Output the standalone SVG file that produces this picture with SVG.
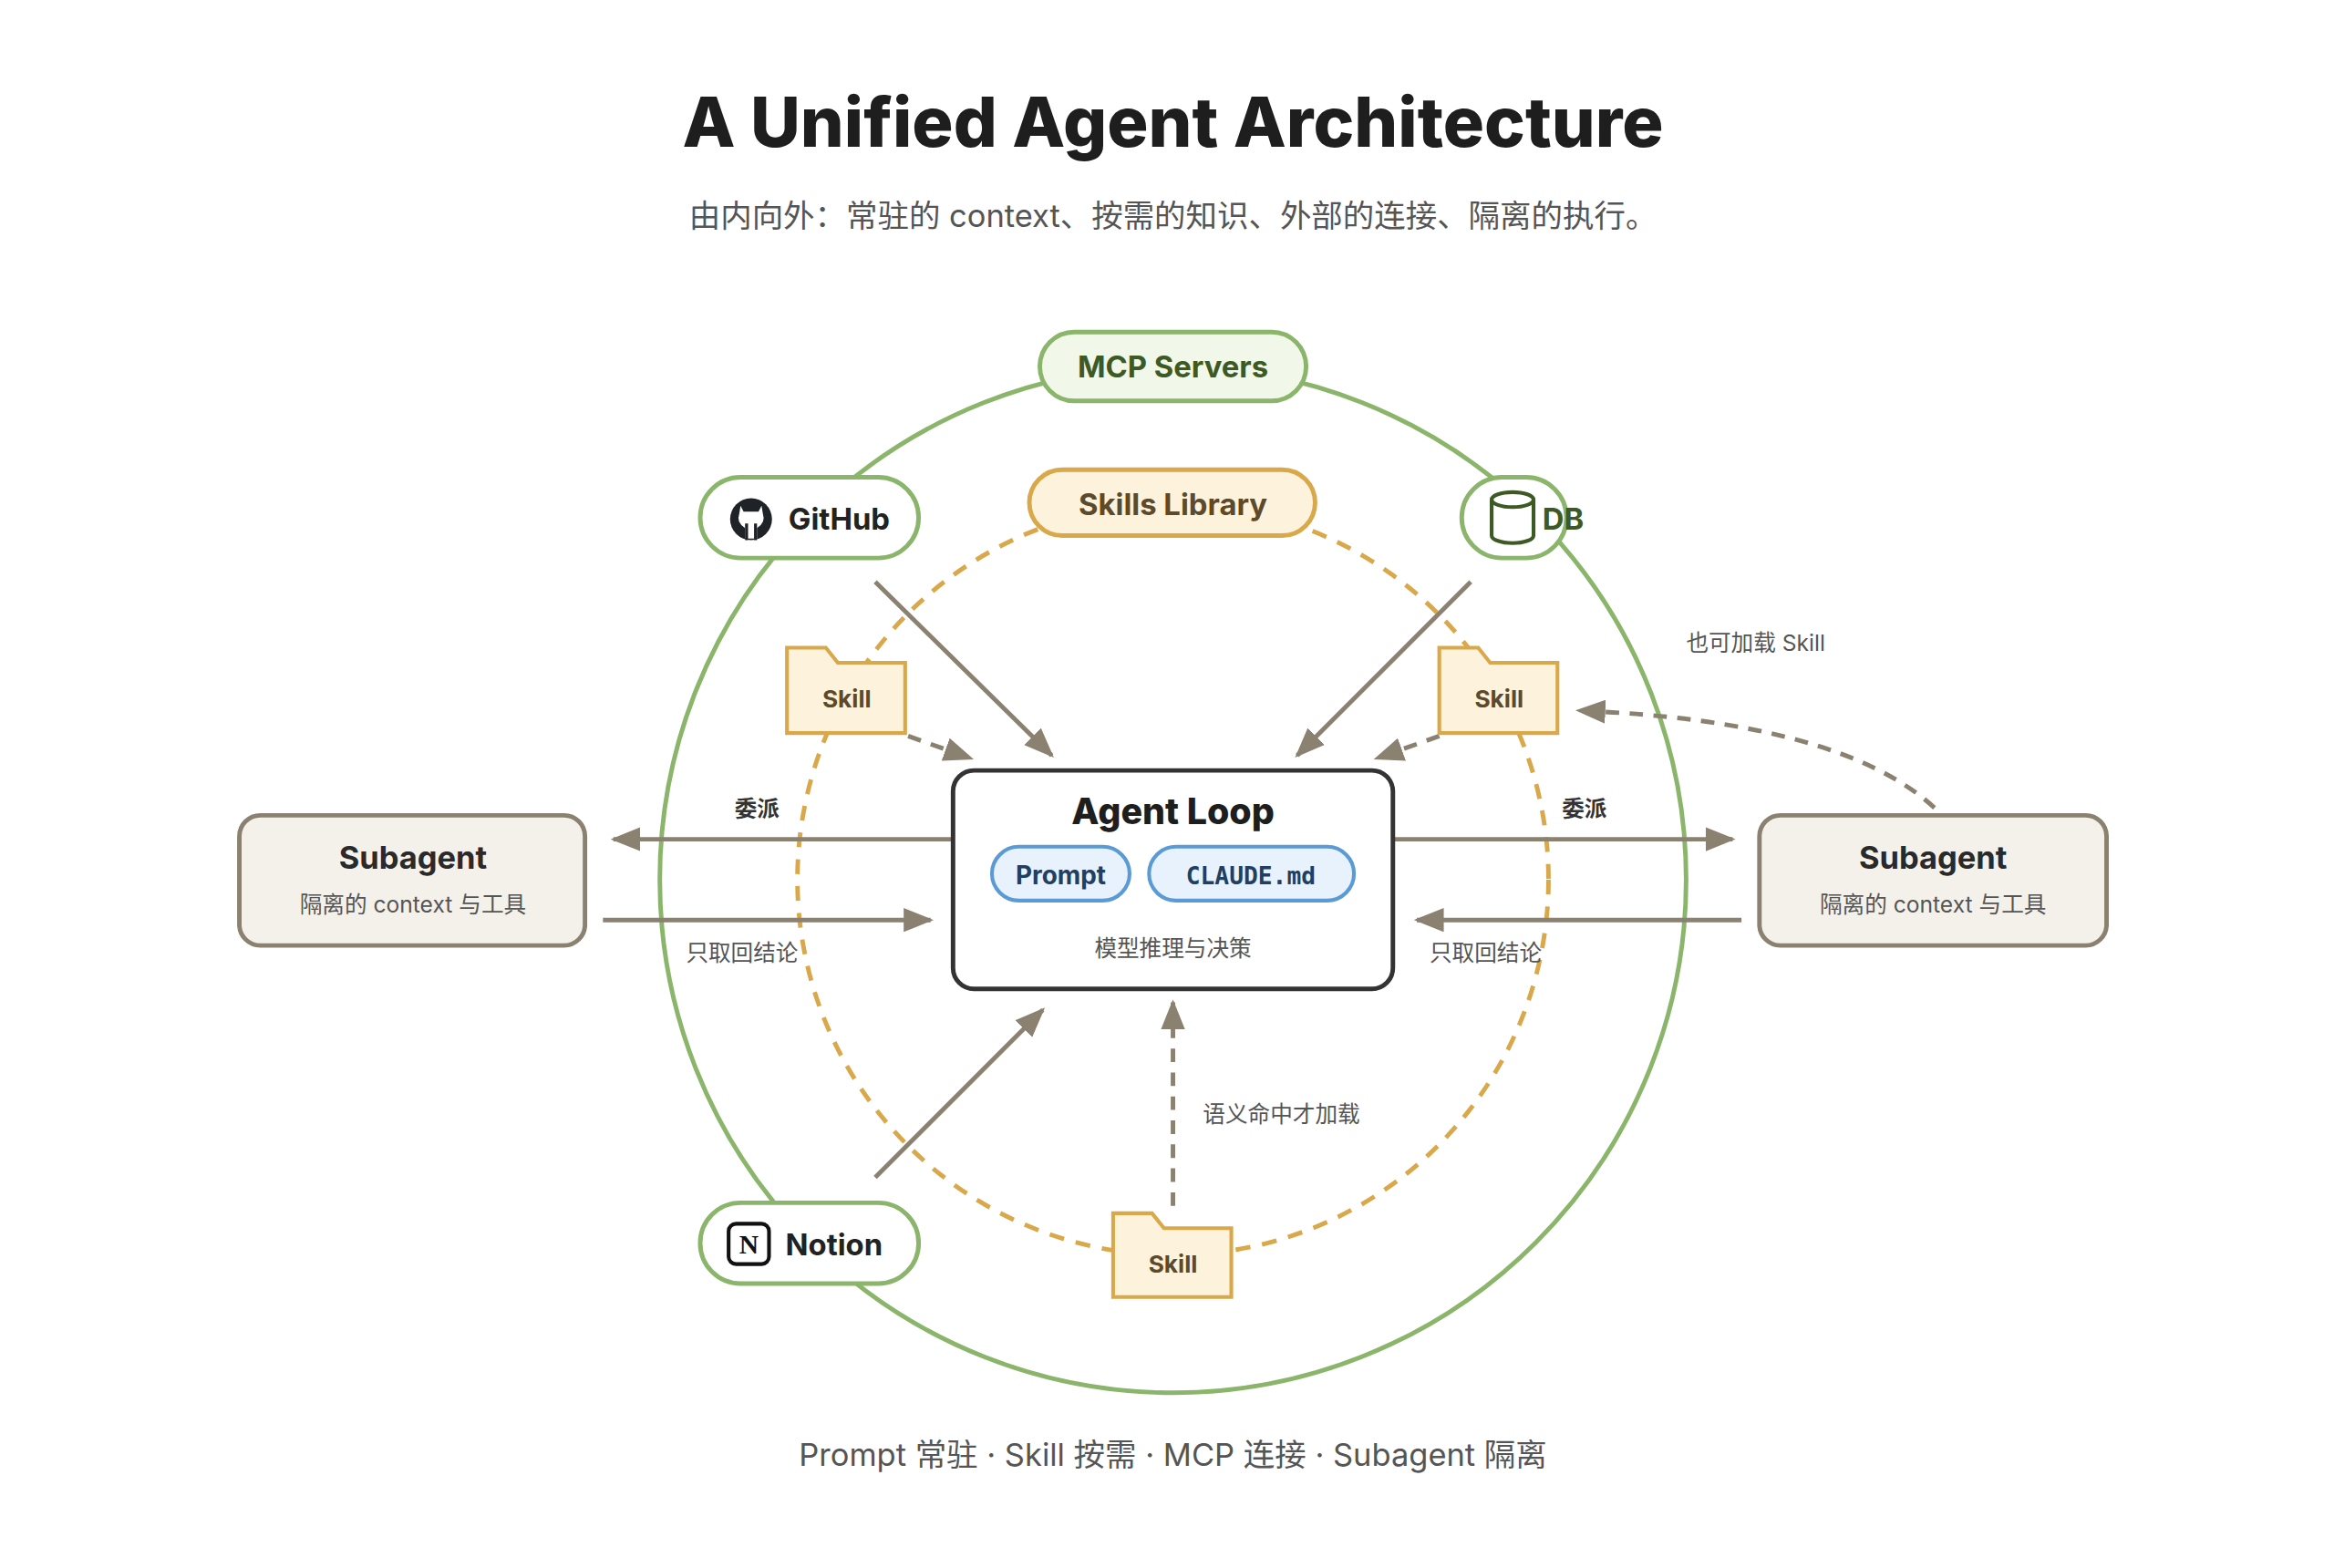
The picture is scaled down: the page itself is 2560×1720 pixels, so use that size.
<svg xmlns="http://www.w3.org/2000/svg" width="2560" height="1720" viewBox="0 0 2560 1720">
<defs>
<marker id="ah" viewBox="0 0 20 16" refX="18" refY="8" markerWidth="20" markerHeight="16" markerUnits="userSpaceOnUse" orient="auto"><path d="M0,0 L20,8 L0,16 z" fill="#8a8170"/></marker>
<style>
.t{font-family:Inter,"Liberation Sans","Noto Sans CJK SC",sans-serif}
.g{fill:#fff;stroke:#8ab56a;stroke-width:3}
.gt{font-weight:700;font-size:20px;fill:#222}
.fold{fill:#fdf3dc;stroke:#d9a84a;stroke-width:2.5}
.ft{font-weight:700;font-size:16px;fill:#5c4a2a}
.a{stroke:#8a8170;stroke-width:3;fill:none}
.d{stroke-dasharray:9 7}
.lb{font-size:15px;fill:#555}
.sb{fill:#f4f1ea;stroke:#8a8170;stroke-width:3}
</style>
</defs>
<rect width="2560" height="1720" fill="#fff"/>
<g transform="scale(1.641)">
<g id="title" class="t">
<text x="784" y="98" text-anchor="middle" font-size="46" font-weight="800" fill="#1e1e1e">A Unified Agent Architecture</text>
<text x="784" y="152" text-anchor="middle" font-size="21" fill="#555">由内向外：常驻的 context、按需的知识、外部的连接、隔离的执行。</text>
</g>
<circle cx="784" cy="588" r="343" fill="none" stroke="#8ab56a" stroke-width="3"/>
<circle cx="784" cy="588" r="251" fill="none" stroke="#d9a84a" stroke-width="3" stroke-dasharray="10 8"/>
<g id="connectors">
<line class="a" x1="637" y1="561" x2="410" y2="561" marker-end="url(#ah)"/>
<line class="a" x1="403" y1="615" x2="622" y2="615" marker-end="url(#ah)"/>
<line class="a" x1="931" y1="561" x2="1158" y2="561" marker-end="url(#ah)"/>
<line class="a" x1="1164" y1="615" x2="947" y2="615" marker-end="url(#ah)"/>
<line class="a" x1="585" y1="389" x2="703" y2="505" marker-end="url(#ah)"/>
<line class="a" x1="983" y1="389" x2="867" y2="505" marker-end="url(#ah)"/>
<line class="a" x1="585" y1="787" x2="697" y2="675" marker-end="url(#ah)"/>
<line class="a d" x1="607" y1="492" x2="649" y2="507" marker-end="url(#ah)"/>
<line class="a d" x1="962" y1="492" x2="920" y2="507" marker-end="url(#ah)"/>
<line class="a d" x1="784" y1="806" x2="784" y2="670" marker-end="url(#ah)"/>
<path class="a d" d="M1293,540 Q1230,482 1055,475" marker-end="url(#ah)"/>
<g class="t" font-weight="700" font-size="15" fill="#333">
<text x="506" y="546" text-anchor="middle">委派</text>
<text x="1059" y="546" text-anchor="middle">委派</text>
</g>
<g class="t lb">
<text x="496" y="642" text-anchor="middle">只取回结论</text>
<text x="993" y="642" text-anchor="middle">只取回结论</text>
<text x="804" y="750">语义命中才加载</text>
<text x="1127" y="435">也可加载 Skill</text>
</g>
</g>
<g id="mcp" class="t"><rect x="695" y="222" width="178" height="46" rx="23" fill="#f1f7e9" stroke="#8ab56a" stroke-width="3"/><text x="784" y="252" text-anchor="middle" font-size="20" font-weight="700" fill="#3d5a25">MCP Servers</text></g>
<g id="github" class="t"><rect class="g" x="468" y="319" width="146" height="54" rx="27"/>
<circle cx="502" cy="347" r="14" fill="#1f2328"/><path d="M495,338 l2,4 h10 l2,-4 l1,6 q2,5 -4,9 v7 h-8 v-7 q-6,-4 -4,-9z" fill="#fff"/><path d="M499,350 v11 M505,350 v11" stroke="#1f2328" stroke-width="2"/>
<text class="gt" x="527" y="354">GitHub</text></g>
<g id="db" class="t"><rect class="g" x="977" y="319" width="70" height="54" rx="27"/>
<path d="M997,334 v24 a14,5 0 0 0 28,0 v-24" fill="none" stroke="#3d5a25" stroke-width="2.5"/><ellipse cx="1011" cy="334" rx="14" ry="5" fill="none" stroke="#3d5a25" stroke-width="2.5"/>
<text x="1031" y="354" font-weight="700" font-size="20" fill="#3d5a25">DB</text></g>
<g id="notion" class="t"><rect class="g" x="468" y="804" width="146" height="54" rx="27"/>
<rect x="487" y="818" width="27" height="27" rx="5" fill="#fff" stroke="#111" stroke-width="2.5"/><text x="500.5" y="838" text-anchor="middle" font-family="Liberation Serif,serif" font-weight="700" font-size="18" fill="#111">N</text>
<text class="gt" x="525" y="839">Notion</text></g>
<g id="skills-library" class="t"><rect x="688" y="314" width="191" height="44" rx="22" fill="#fdf3dc" stroke="#d9a84a" stroke-width="3"/><text x="784" y="344" text-anchor="middle" font-size="20" font-weight="700" fill="#5c4a2a">Skills Library</text></g>
<g id="skill-left" class="t"><path class="fold" d="M526,490 V433 H552 L560,443 H605 V490 z"/><text class="ft" x="566" y="473" text-anchor="middle">Skill</text></g>
<g id="skill-right" class="t"><path class="fold" d="M962,490 V433 H988 L996,443 H1041 V490 z"/><text class="ft" x="1002" y="473" text-anchor="middle">Skill</text></g>
<g id="skill-bottom" class="t"><path class="fold" d="M744,867 V811 H770 L778,821 H823 V867 z"/><text class="ft" x="784" y="851" text-anchor="middle">Skill</text></g>
<g id="agent-loop" class="t"><rect x="637" y="515" width="294" height="146" rx="14" fill="#fff" stroke="#333" stroke-width="3"/>
<text x="784" y="551" text-anchor="middle" font-size="24" font-weight="800" fill="#1e1e1e">Agent Loop</text>
<rect x="663" y="566" width="92" height="36" rx="18" fill="#e8f2fd" stroke="#5b9bd5" stroke-width="2.5"/><text x="709" y="591" text-anchor="middle" font-size="17" font-weight="700" fill="#1f3f63">Prompt</text>
<rect x="768" y="566" width="137" height="36" rx="18" fill="#e8f2fd" stroke="#5b9bd5" stroke-width="2.5"/><text x="836" y="591" text-anchor="middle" font-family="DejaVu Sans Mono,monospace" font-size="16" font-weight="700" fill="#1f3f63">CLAUDE.md</text>
<text x="784" y="639" text-anchor="middle" font-size="15" fill="#555">模型推理与决策</text></g>
<g id="subagent-left" class="t"><rect class="sb" x="160" y="545" width="231" height="87" rx="14"/><text x="276" y="581" text-anchor="middle" font-size="21" font-weight="700" fill="#2a2a2a">Subagent</text><text x="276" y="610" text-anchor="middle" font-size="15" fill="#555">隔离的 context 与工具</text></g>
<g id="subagent-right" class="t"><rect class="sb" x="1176" y="545" width="232" height="87" rx="14"/><text x="1292" y="581" text-anchor="middle" font-size="21" font-weight="700" fill="#2a2a2a">Subagent</text><text x="1292" y="610" text-anchor="middle" font-size="15" fill="#555">隔离的 context 与工具</text></g>
<text class="t" x="784" y="980" text-anchor="middle" font-size="21" fill="#555">Prompt 常驻 · Skill 按需 · MCP 连接 · Subagent 隔离</text>
</g>
</svg>
